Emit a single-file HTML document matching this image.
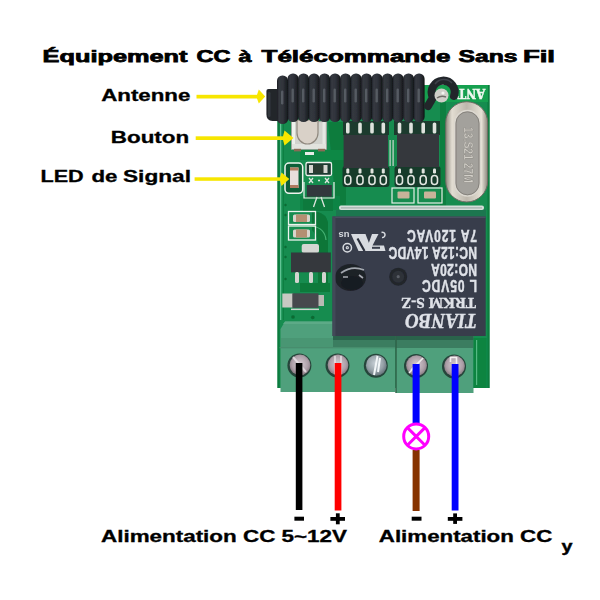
<!DOCTYPE html>
<html><head><meta charset="utf-8">
<style>
html,body{margin:0;padding:0;background:#fff;width:600px;height:600px;overflow:hidden}
svg{position:absolute;left:0;top:0;display:block}
.t{font-family:"Liberation Sans",sans-serif;font-weight:bold}
.s{font-family:"Liberation Serif",serif;font-weight:bold}
</style></head>
<body>
<svg width="600" height="600" viewBox="0 0 600 600">
<defs>
<filter id="soft" x="0" y="0" width="100%" height="100%" filterUnits="userSpaceOnUse"><feGaussianBlur stdDeviation="0.45"/></filter>
<linearGradient id="coil" x1="0" x2="1" y1="0" y2="0">
<stop offset="0" stop-color="#1c1e23"/><stop offset=".2" stop-color="#353940"/><stop offset=".55" stop-color="#2f333a"/><stop offset=".85" stop-color="#1f2126"/><stop offset="1" stop-color="#0e0f12"/>
</linearGradient>
<radialGradient id="screw" cx=".5" cy=".45" r=".6">
<stop offset="0" stop-color="#d6ccd2"/><stop offset=".65" stop-color="#ad9fa8"/><stop offset="1" stop-color="#7a6c74"/>
</radialGradient>
<radialGradient id="screw2" cx=".45" cy=".4" r=".6">
<stop offset="0" stop-color="#c8d0d6"/><stop offset=".65" stop-color="#96a1a8"/><stop offset="1" stop-color="#66727a"/>
</radialGradient>
<linearGradient id="xtal" x1="0" x2="1" y1="0" y2="0">
<stop offset="0" stop-color="#8f8a80"/><stop offset=".15" stop-color="#e2ddd2"/><stop offset=".5" stop-color="#bdb7ac"/><stop offset=".85" stop-color="#e6e1d6"/><stop offset="1" stop-color="#8a857b"/>
</linearGradient>
<g id="coilL">
<rect x="0" y="0" width="11.1" height="48.5" rx="5.3" fill="url(#coil)"/>
<rect x="4" y="15" width="2.4" height="14" rx="1.2" fill="#757a83" opacity=".55"/>
</g>
<g id="pin"><rect x="-2" y="0" width="4" height="10" rx="1.5" fill="#d9dcd6"/></g>
</defs>
<rect width="600" height="600" fill="#fff"/>

<g filter="url(#soft)">
<!-- ===== PCB ===== -->
<g id="pcb">
<rect x="277.5" y="85" width="212" height="303" fill="#138c4f"/>
<!-- edge strips -->
<rect x="277.5" y="85" width="2" height="303" fill="#0b7a3e"/>
<rect x="280" y="120" width="1.3" height="200" fill="#62c494"/>
<rect x="283" y="120" width="1" height="200" fill="#0d7f42"/>
<rect x="487.5" y="85" width="2" height="303" fill="#0c7c3e"/>
<!-- darker trace zones -->
<path d="M328 122H346V205H336Z" fill="#0d7c3e"/>
<path d="M300 196H340V210H300Z" fill="#0f8444"/>
<path d="M440 100H446V208H440Z" fill="#0e7f40"/>
<path d="M318 212Q326 214 328 222V292H318V248Q318 236 312 230V212Z" fill="#0b7639"/>
<path d="M312 226Q325 228 326 240" stroke="#45b172" stroke-width="1.2" fill="none"/>
<path d="M300 283H330V292H300Z" fill="#0c7a3b"/>
<path d="M303 197H333V211H303Z" fill="#0d7a3d"/>
<path d="M300 150H346V160H300Z" fill="#108845"/>
<!-- top right light -->
<rect x="424" y="85" width="64" height="17" fill="#17a04f"/>
<!-- ANT -->
<text class="s" x="0" y="0" font-size="15" fill="#f2f8f2" stroke="#f2f8f2" stroke-width=".5" transform="translate(471.5 94) rotate(180) translate(-14 5.5)" textLength="28" lengthAdjust="spacingAndGlyphs">ANT</text>

<!-- crystal -->
<rect x="445.7" y="101.7" width="42" height="100.3" rx="21" fill="url(#xtal)" stroke="#6e6a62" stroke-width="1"/>
<rect x="454.8" y="110.6" width="25.4" height="85.4" rx="12.7" fill="#a3a19c" stroke="#dcd8d0" stroke-width="1.6"/>
<rect x="456" y="111.8" width="23" height="83" rx="11.5" fill="none" stroke="#7d7a74" stroke-width=".8"/>
<text class="t" x="0" y="0" font-size="12.5" fill="#d2cfc8" stroke="#7b7872" stroke-width=".3" font-weight="normal" transform="translate(463.5 127) rotate(90)" textLength="56" lengthAdjust="spacingAndGlyphs">13.S21 27M</text>

<!-- button -->
<rect x="291.6" y="121.6" width="34.8" height="27.6" fill="#d2d3ce" stroke="#a5a7a1" stroke-width="1"/>
<rect x="292" y="122" width="3" height="27" fill="#eef0ec"/>
<rect x="322.5" y="122" width="3" height="27" fill="#e6e8e4"/>
<rect x="292" y="144" width="34" height="5" fill="#e2e3de"/>
<path d="M297 120H318V133A10.5 11 0 0 1 297 133Z" fill="#d9d1c8" stroke="#8f887e" stroke-width="1.2"/>
<rect x="294" y="148.8" width="7" height="2.6" fill="#8a6a55"/>
<rect x="318" y="148.8" width="7" height="2.6" fill="#8a6a55"/>
<rect x="305" y="152" width="9" height="3" fill="#e8ece8"/>

<!-- ICs -->
<rect x="343" y="121" width="46" height="14" fill="#1b3b2d"/><rect x="394" y="121" width="46" height="14" fill="#1b3b2d"/>
<rect x="342.5" y="166" width="47" height="21" rx="3" fill="#163a2b"/><rect x="394.5" y="166" width="46" height="21" rx="3" fill="#163a2b"/>
<g fill="#dfe3dd">
<rect x="346.0" y="122.5" width="3.6" height="11" rx="1.6"/>
<rect x="346.3" y="168.5" width="3" height="5" rx="1.2"/>
<rect x="358.2" y="122.5" width="3.6" height="11" rx="1.6"/>
<rect x="358.5" y="168.5" width="3" height="5" rx="1.2"/>
<rect x="370.2" y="122.5" width="3.6" height="11" rx="1.6"/>
<rect x="370.5" y="168.5" width="3" height="5" rx="1.2"/>
<rect x="381.5" y="122.5" width="3.6" height="11" rx="1.6"/>
<rect x="381.8" y="168.5" width="3" height="5" rx="1.2"/>
<rect x="397.7" y="122.5" width="3.6" height="11" rx="1.6"/>
<rect x="398.0" y="168.5" width="3" height="5" rx="1.2"/>
<rect x="409.2" y="122.5" width="3.6" height="11" rx="1.6"/>
<rect x="409.5" y="168.5" width="3" height="5" rx="1.2"/>
<rect x="421.4" y="122.5" width="3.6" height="11" rx="1.6"/>
<rect x="421.7" y="168.5" width="3" height="5" rx="1.2"/>
<rect x="432.7" y="122.5" width="3.6" height="11" rx="1.6"/>
<rect x="433.0" y="168.5" width="3" height="5" rx="1.2"/>
</g><g fill="none" stroke="#e3e7e1" stroke-width="1.6">
<rect x="344.8" y="175.5" width="6" height="9" rx="3"/>
<rect x="357.0" y="175.5" width="6" height="9" rx="3"/>
<rect x="369.0" y="175.5" width="6" height="9" rx="3"/>
<rect x="380.3" y="175.5" width="6" height="9" rx="3"/>
<rect x="396.5" y="175.5" width="6" height="9" rx="3"/>
<rect x="408.0" y="175.5" width="6" height="9" rx="3"/>
<rect x="420.2" y="175.5" width="6" height="9" rx="3"/>
<rect x="431.5" y="175.5" width="6" height="9" rx="3"/>
</g>
<rect x="343.6" y="135" width="44.4" height="33" fill="#34383d"/>
<rect x="397" y="134" width="42" height="33" fill="#34383d"/>
<rect x="389.5" y="140" width="1.2" height="26" fill="#cfd6d0"/>
<rect x="392.5" y="140" width="1.2" height="26" fill="#cfd6d0"/>

<!-- small caps under ICs -->
<rect x="392" y="188" width="22" height="15" fill="none" stroke="#e8eee8" stroke-width="1.2"/>
<rect x="418" y="188" width="24" height="15" fill="none" stroke="#e8eee8" stroke-width="1.2"/>
<rect x="397.5" y="191.5" width="12" height="7" rx="1" fill="#c7b39a"/>
<rect x="424" y="191.5" width="12" height="7" rx="1" fill="#c7b39a"/>
<!-- line above relay -->
<rect x="336" y="209.7" width="150" height="8" fill="#1e7650"/>
<rect x="339" y="205.5" width="145" height="4.5" rx="2" fill="#d5ddd9"/>
<rect x="341" y="207.3" width="141" height="1.2" fill="#9fb0aa"/>

<!-- LED -->
<rect x="285" y="163" width="17.7" height="30.3" rx="4" fill="#0f5e37" stroke="#eef3ee" stroke-width="1.5"/>
<rect x="290" y="167.5" width="8.5" height="20.5" fill="#e9dedb"/>
<rect x="290" y="167.5" width="8.5" height="3" fill="#b07a60"/>
<rect x="290" y="185" width="8.5" height="3" fill="#b07a60"/>
<!-- resistor near LED -->
<rect x="306" y="162.5" width="25.5" height="13" rx="1.5" fill="#1c3a30" stroke="#eef3ee" stroke-width="1.3"/>
<rect x="310" y="165" width="17" height="8" fill="#2b3a33"/>
<rect x="309" y="165" width="4" height="8" fill="#d6d6d2"/>
<rect x="323.5" y="165" width="4" height="8" fill="#d6d6d2"/>
<!-- SOT23 -->
<path d="M304 182V198H334V182" fill="none" stroke="#eef3ee" stroke-width="1.2"/>
<rect x="306.8" y="185" width="25" height="11.7" fill="#33373c"/>
<path d="M317 197L313.5 207M321 197L324.5 207M309 178L313 183M313 178L309 183M325 178L329 183M329 178L325 183M318 180.5H320" stroke="#dfe5df" stroke-width="1.3"/>

<!-- left column caps -->
<rect x="288.5" y="211.5" width="27" height="13" fill="none" stroke="#eef3ee" stroke-width="1.3"/>
<rect x="288.5" y="226" width="27" height="14" fill="none" stroke="#eef3ee" stroke-width="1.3"/>
<rect x="293" y="214.5" width="17" height="7.5" rx="1.5" fill="#d9d4cc"/>
<rect x="296" y="214.5" width="11" height="7.5" fill="#b48f72"/>
<rect x="293" y="229.5" width="17" height="8" rx="1.5" fill="#d9d4cc"/>
<rect x="296" y="229.5" width="11" height="8" fill="#b48f72"/>
<!-- regulator -->
<rect x="301.7" y="244" width="17.3" height="9" rx="2" fill="#d4d6d2"/>
<rect x="291" y="252.5" width="39.8" height="19.8" fill="#34383d"/>
<rect x="295" y="272" width="4" height="11" rx="1.5" fill="#d2d4d0"/>
<rect x="309" y="272" width="4" height="11" rx="1.5" fill="#d2d4d0"/>
<rect x="322" y="272" width="4" height="11" rx="1.5" fill="#d2d4d0"/>
<!-- diode -->
<rect x="282.3" y="293.5" width="11" height="14" fill="#c9c9c3"/>
<rect x="318" y="295" width="6" height="11" fill="#b9bab4"/>
<rect x="292.3" y="293.3" width="26.2" height="14.5" fill="#46494e"/>
<rect x="291" y="308.6" width="28" height="1.5" fill="#cfd6d0"/>
<!-- dots -->
<g fill="#0a6a33">
<circle cx="285.5" cy="205" r="1.2"/><circle cx="285.5" cy="215" r="1.2"/><circle cx="285.5" cy="247" r="1.2"/><circle cx="285.5" cy="257" r="1.2"/><circle cx="285.5" cy="279" r="1.2"/><circle cx="293" cy="317" r="1.8"/><circle cx="312.7" cy="317.5" r="1.8"/>
</g>
</g>

<!-- ===== TERMINAL BLOCKS ===== -->
<path d="M285 321.5H395.5V392H280.5V329Z" fill="#50a07b"/>
<path d="M285 321.5H333V324H283Z" fill="#5daa87"/>
<rect x="281" y="338" width="52" height="9" fill="#4a9673"/>
<rect x="333" y="336" width="62.5" height="12" fill="#3b7d60"/>
<rect x="333" y="336" width="62.5" height="4" fill="#2c634b"/>
<rect x="279.5" y="347" width="116" height="1.3" fill="#468d6d"/>
<rect x="396" y="336" width="77.5" height="57" fill="#50a07b"/>
<rect x="396" y="336" width="77.5" height="12" fill="#3b7d60"/>
<rect x="396" y="336" width="77.5" height="4" fill="#2c634b"/>
<rect x="395.3" y="322" width="1.4" height="71" fill="#2e5f48"/>
<rect x="473.5" y="338" width="13" height="50" fill="#0f8440"/>
<rect x="476" y="340" width="1.2" height="45" fill="#55b984"/>
<!-- screws -->
<g>
<circle cx="299.4" cy="365.4" r="12" fill="#25443a"/>
<circle cx="300" cy="365" r="10.4" fill="url(#screw)"/>
<path d="M293 357L306 372" stroke="#eae4e8" stroke-width="2" opacity=".8"/>
<circle cx="337.5" cy="365.4" r="12" fill="#25443a"/>
<circle cx="338" cy="365" r="10.4" fill="url(#screw)"/>
<path d="M335 356V374M341 356V374" stroke="#f0eaee" stroke-width="1.6" opacity=".8"/>
<circle cx="375.8" cy="365.8" r="12" fill="#25443a"/>
<circle cx="376.3" cy="365.4" r="10.4" fill="url(#screw2)"/>
<path d="M377.5 356L374 375M380 358L378 372" stroke="#f2f6f8" stroke-width="2"/>
<circle cx="416" cy="366" r="12" fill="#25443a"/>
<circle cx="416.5" cy="365.6" r="10.4" fill="url(#screw)"/>
<path d="M409 373L423 358M411 370L421 360" stroke="#f0ecee" stroke-width="1.6"/>
<circle cx="454" cy="366.4" r="12" fill="#25443a"/>
<circle cx="454.5" cy="366" r="10.4" fill="url(#screw)"/>
<path d="M450.5 362V357.5H456.5V364" stroke="#f4f0f0" stroke-width="1.6" fill="none"/>
</g>

<!-- ===== RELAY ===== -->
<rect x="332.5" y="216.6" width="153.2" height="119.4" fill="#373c4b"/>
<rect x="332.5" y="216.6" width="153.2" height="1.5" fill="#4a5060"/>
<ellipse cx="350.5" cy="277.5" rx="15.5" ry="13.5" fill="#1f2128"/>
<ellipse cx="352" cy="283" rx="11" ry="7" fill="#191b21"/>
<path d="M341 273Q352 265 364 270" stroke="#b9bec6" stroke-width="1.6" fill="none" opacity=".85"/>
<path d="M343 277H348M359 275L363 278" stroke="#c9cdd4" stroke-width="1.6" opacity=".8"/>
<circle cx="398.2" cy="276.7" r="9" fill="#22252c"/>
<circle cx="398.2" cy="276.7" r="6" fill="#2d3139"/>
<circle cx="398.2" cy="276.7" r="1.6" fill="#5a5e66"/>
<rect x="332.5" y="216.6" width="3" height="119.4" fill="#434858"/>
<!-- UL logo -->
<g fill="#d8dbe0">
<path d="M351 234H365.5L372 251H358.5Z"/>
<path d="M372 234H378.5L372.5 245.5H384L385.5 251H366Z"/>
</g>
<path d="M357.5 238.5L364.5 251" stroke="#2a2e3a" stroke-width="2.2"/>
<rect x="372" y="246.8" width="8" height="2" fill="#373c4b"/>
<text class="t" font-weight="normal" x="0" y="0" font-size="9.5" fill="#d8dbe0" transform="translate(349.5 232) rotate(180)">us</text>
<g fill="none" stroke="#d8dbe0">
<circle cx="347.3" cy="247.7" r="4.2" stroke-width="1.5"/>
<circle cx="347.3" cy="247.7" r="1.1" stroke-width="1.1"/>
<path d="M381.5 232.5A2.6 2.6 0 1 1 382 237.5" stroke-width="1.5"/>

</g>
<g transform="rotate(180 409 276)" fill="#dfe2e8" stroke="#dfe2e8" stroke-width=".35">
<text class="t" font-weight="normal" transform="translate(341 322) scale(1 1.36)" font-size="12" textLength="70" lengthAdjust="spacing">7A 120VAC</text>
<text class="t" font-weight="normal" transform="translate(341 305) scale(1 1.36)" font-size="12" textLength="88.4" lengthAdjust="spacing">NC:12A 14VDC</text>
<text class="t" font-weight="normal" transform="translate(341 288.4) scale(1 1.36)" font-size="12" textLength="46" lengthAdjust="spacing">NO:20A</text>
<text class="t" font-weight="normal" transform="translate(341 271.6) scale(1 1.36)" font-size="12" textLength="55" lengthAdjust="spacing">L 05VDC</text>
<text class="s" font-weight="normal" x="342" y="254" font-size="14" textLength="75" lengthAdjust="spacingAndGlyphs">TRKM  S-Z</text>
<text class="s" x="341" y="238" font-size="20" font-style="italic" textLength="72" lengthAdjust="spacingAndGlyphs">TIANBO</text>
</g>

<!-- ===== ANTENNA ===== -->
<path d="M266.4 91Q266.4 89 268.5 89H279V121H272.5Q266.4 121 266.4 114Z" fill="#23262c"/>
<rect x="268" y="92" width="2.5" height="25" rx="1.2" fill="#3b3f46" opacity=".7"/>
<g id="coils">
<use href="#coilL" x="277" y="75.5" transform="translate(0 0)"/><use href="#coilL" x="287.5" y="73.5"/><use href="#coilL" x="298" y="73.5"/><use href="#coilL" x="308.5" y="73.5"/><use href="#coilL" x="319" y="73.5"/><use href="#coilL" x="329.5" y="73.5"/><use href="#coilL" x="340" y="73.5"/><use href="#coilL" x="350.5" y="73.5"/><use href="#coilL" x="361" y="73.5"/><use href="#coilL" x="371.5" y="73.5"/><use href="#coilL" x="382" y="73.5"/><use href="#coilL" x="392.5" y="73.5"/><use href="#coilL" x="403" y="73.5"/><use href="#coilL" x="413.5" y="73.5"/>
</g>
<path d="M428 106L433 97.5A11.5 11.5 0 1 1 454 96" fill="none" stroke="#23262c" stroke-width="8" stroke-linecap="round" stroke-linejoin="round"/>
<path d="M435 84A11 11 0 0 1 452 83" fill="none" stroke="#4a4f57" stroke-width="1.5" opacity=".7"/>
<circle cx="441.5" cy="95.5" r="7" fill="#cfcec8"/>
<path d="M437 98Q441 95 446 97" stroke="#6f6d68" stroke-width="1.5" fill="none"/>
<circle cx="443" cy="93" r="1.6" fill="#f4f4f0"/>

</g>
<!-- ===== WIRES ===== -->
<rect x="295.8" y="363" width="6.6" height="147" fill="#000"/>
<rect x="334.7" y="363" width="6.7" height="147.5" fill="#f00"/>
<rect x="412.6" y="364" width="7" height="59" fill="#00f"/>
<rect x="412.6" y="450" width="7" height="61" fill="#873300"/>
<rect x="451.7" y="364" width="6.8" height="146.5" fill="#00f"/>
<circle cx="416.2" cy="436.4" r="12.5" fill="none" stroke="#f0f" stroke-width="3"/>
<path d="M407.4 427.6L425 445.2M425 427.6L407.4 445.2" stroke="#f0f" stroke-width="3"/>

<!-- ===== ARROWS ===== -->
<g fill="#f7e600">
<rect x="196.5" y="94.8" width="62" height="3.7"/>
<path d="M257 94.8L258.8 89.5L265.2 96.6L258.8 103.5L257 98.5Z"/>
<rect x="195.7" y="136.3" width="88" height="3.7"/>
<path d="M283 136.3L284.5 130.5L293.5 138.1L284.5 145.5L283 140Z"/>
<rect x="194.6" y="177.3" width="86" height="3.5"/>
<path d="M280 177.3L281.5 172.5L289.3 179L281.5 186L280 180.8Z"/>
</g>

<!-- ===== TEXT ===== -->
<g fill="#000">
<g stroke="#000" stroke-width=".75" font-size="16.5">
<text class="t" x="42.6" y="62" textLength="144.9" lengthAdjust="spacingAndGlyphs">Équipement</text>
<text class="t" x="196.5" y="62" textLength="34" lengthAdjust="spacingAndGlyphs">CC</text>
<text class="t" x="238.5" y="62" textLength="13" lengthAdjust="spacingAndGlyphs">à</text>
<text class="t" x="261.6" y="62" textLength="188.9" lengthAdjust="spacingAndGlyphs">Télécommande</text>
<text class="t" x="458.5" y="62" textLength="59" lengthAdjust="spacingAndGlyphs">Sans</text>
<text class="t" x="522.9" y="62" textLength="32.1" lengthAdjust="spacingAndGlyphs">Fil</text>
</g>
<g stroke="#000" stroke-width=".3" font-size="16.5">
<text class="t" x="101.2" y="101.3" textLength="89.2" lengthAdjust="spacingAndGlyphs">Antenne</text>
<text class="t" x="110.8" y="143" textLength="78.4" lengthAdjust="spacingAndGlyphs">Bouton</text>
<text class="t" x="40.5" y="182" textLength="43.2" lengthAdjust="spacingAndGlyphs">LED</text>
<text class="t" x="91.5" y="182" textLength="26" lengthAdjust="spacingAndGlyphs">de</text>
<text class="t" x="123" y="182" textLength="68" lengthAdjust="spacingAndGlyphs">Signal</text>
</g>
<text class="t" x="101" y="541.8" font-size="15.6" stroke="#000" stroke-width=".3" textLength="246" lengthAdjust="spacingAndGlyphs">Alimentation CC 5~12V</text>
<text class="t" x="378.8" y="541.9" font-size="15.6" stroke="#000" stroke-width=".3" textLength="173.5" lengthAdjust="spacingAndGlyphs">Alimentation CC</text>
<text class="t" x="561.5" y="551.8" font-size="15.6" stroke="#000" stroke-width=".4" textLength="11" lengthAdjust="spacingAndGlyphs">y</text>
<rect x="294.4" y="516.7" width="9.6" height="4"/>
<rect x="411.7" y="516.7" width="9.8" height="4"/>
<rect x="330.4" y="517" width="14.6" height="3.8"/>
<rect x="335.9" y="513.3" width="3.8" height="11"/>
<rect x="447.8" y="517" width="14.6" height="3.8"/>
<rect x="453.2" y="513.4" width="3.8" height="10.5"/>
</g>
</svg>
</body></html>
